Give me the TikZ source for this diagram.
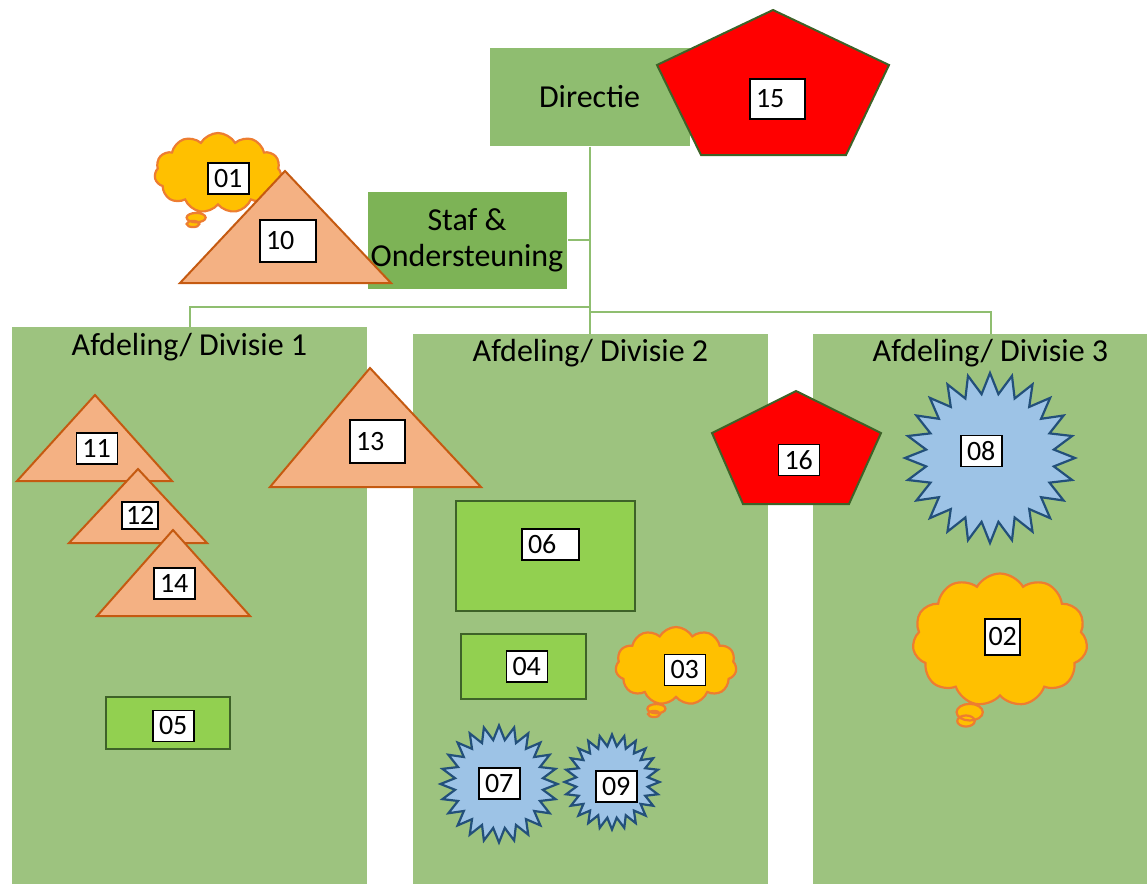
\documentclass[tikz,border=0pt]{standalone}
\usepackage{fontspec}
\setmainfont{Carlito}
\usetikzlibrary{shapes,shapes.callouts}
\definecolor{panelgreen}{RGB}{157,195,127}
\definecolor{dirgreen}{RGB}{143,189,112}
\definecolor{stafgreen}{RGB}{125,179,86}
\definecolor{linkgreen}{RGB}{143,190,112}
\definecolor{unitgreen}{RGB}{146,208,80}
\definecolor{darkgreen}{RGB}{62,98,40}
\definecolor{trifill}{RGB}{244,177,131}
\definecolor{tridraw}{RGB}{197,90,17}
\definecolor{starfill}{RGB}{157,195,230}
\definecolor{stardraw}{RGB}{35,80,122}
\definecolor{cloudfill}{RGB}{255,192,0}
\definecolor{clouddraw}{RGB}{237,125,49}

\begin{document}
\begin{tikzpicture}[
  x=0.5pt, y=-0.5pt,
  every node/.style={font=\fontsize{16}{18}\selectfont},
  panel/.style={fill=panelgreen, minimum width=177.5pt, minimum height=#1, inner sep=0pt},
  orgbox/.style={fill=#1, draw=white, line width=0.5pt, inner sep=0pt},
  divtitle/.style={inner sep=0pt},
  link/.style={draw=linkgreen, line width=1pt},
  unit/.style={fill=unitgreen, draw=darkgreen, line width=1.1pt, inner sep=0pt},
  tri/.style={fill=trifill, draw=tridraw, line width=1pt},
  penta/.style={fill=red, draw=darkgreen, line width=1pt},
  burst/.style={star, star points=24, star point ratio=1.32, fill=starfill,
    draw=stardraw, line width=1.1pt, inner sep=0pt, minimum size=#1},
  thought/.style={cloud callout, cloud puffs=11, cloud puff arc=120, cloud ignores aspect,
    fill=cloudfill, draw=clouddraw, line width=1.1pt, inner sep=0pt},
  numbox/.style={draw=black, fill=white, line width=0.7pt, font=\fontsize{14}{16}\selectfont,
    inner xsep=3pt, inner ysep=0pt, minimum height=15.5pt, text width=#1, align=left},
  numbox/.default=14.5pt,
]
\useasboundingbox (0,0) rectangle (1147,884);

% --- Divisions ---------------------------------------------------
\node[panel=278.5pt] (div1) at (189.5,605.5) {};
\node[panel=275pt] (div2) at (590.5,609) {};
\node[panel=275pt] (div3) at (990.5,609) {};
\node[divtitle] (t1) at ([yshift=-10.5pt]div1.north) {Afdeling/ Divisie 1};
\node[divtitle] (t2) at ([yshift=-10pt]div2.north) {Afdeling/ Divisie 2};
\node[divtitle] (t3) at ([yshift=-10pt]div3.north) {Afdeling/ Divisie 3};

% --- Top of the chart --------------------------------------------
\node[orgbox=dirgreen, minimum width=100.5pt, minimum height=49.5pt] (dir) at (589.5,96.5) {Directie};
\node[orgbox=stafgreen, minimum width=100pt, minimum height=49pt] (staf) at (467,240) {};

% --- Lines -------------------------------------------------------
\coordinate (jl) at (589.5,306.5);
\coordinate (jr) at (589.5,312);
\draw[link] (dir.south) -- (dir.south |- div2.north);
\draw[link] (dir.south |- staf.east) -- (staf.east);
\draw[link] (jl) -| (div1.north);
\draw[link] (jr) -| (div3.north);

% --- Shapes in the staff area ------------------------------------
\node[thought, minimum width=63.5pt, minimum height=40pt,
  callout absolute pointer={(193,224)}] (c01) at (218,173) {};
\node[numbox] (n01) at (228.5,178.5) {01};
\draw[tri] (285,171) -- (391,283) -- (180,283) -- cycle;
\node[numbox=22pt, minimum height=21pt] (n10) at (288,241) {10};
\node[inner sep=0pt, align=center] (stafText) at (staf) {Staf \&\\Ondersteuning};
\draw[penta] (773,10) -- (889,65) -- (846,155) -- (701,155) -- (657,65) -- cycle;
\node[numbox=21.5pt, minimum height=20pt] (n15) at (777.5,99) {15};

% --- Division 1 --------------------------------------------------
\draw[tri] (95,395) -- (172,481) -- (17,481) -- cycle;
\node[numbox] (n11) at (97,448.5) {11};
\draw[tri] (138,469) -- (207,543) -- (69,543) -- cycle;
\node[numbox=14pt, inner xsep=2pt, minimum height=13.5pt] (n12) at (140,515.5) {12};
\draw[tri] (173,530) -- (250,616) -- (97,616) -- cycle;
\node[numbox] (n14) at (174.5,583.5) {14};
\draw[tri] (370,368) -- (481,487) -- (270,487) -- cycle;
\node[numbox=21.5pt, minimum height=21.5pt] (n13) at (377.5,441.5) {13};
\node[unit, minimum width=62pt, minimum height=26pt] (u05) at (168,723) {};
\node[numbox] (n05) at (173.5,726) {05};

% --- Division 2 --------------------------------------------------
\node[unit, minimum width=89.5pt, minimum height=55pt] (u06) at (545.5,556) {};
\node[numbox=22.5pt] (n06) at (550.5,544.5) {06};
\node[unit, minimum width=62.5pt, minimum height=32.5pt] (u04) at (523.5,666.5) {};
\node[numbox] (n04) at (527,666.5) {04};
\node[thought, minimum width=60.5pt, minimum height=39pt,
  callout absolute pointer={(654,714)}] (c03) at (676,666) {};
\node[numbox] (n03) at (685,670) {03};
\node[burst=58.5pt] (s07) at (499,784) {};
\node[numbox] (n07) at (499.5,783.5) {07};
\node[burst=47.5pt] (s09) at (612,782) {};
\node[numbox] (n09) at (616.5,786.5) {09};
\draw[penta] (796,391) -- (881,433) -- (849,504) -- (743,504) -- (712,433) -- cycle;
\node[numbox] (n16) at (799,460) {16};

% --- Division 3 --------------------------------------------------
\node[burst=85pt] (s08) at (990,458) {};
\node[numbox] (n08) at (981.5,451) {08};
\node[thought, minimum width=87.5pt, minimum height=66.5pt,
  callout absolute pointer={(966,721)}] (c02) at (1000,640) {};
\node[numbox=14pt, inner xsep=1.75pt, minimum height=18pt] (n02) at (1002.5,637) {02};
\end{tikzpicture}
\end{document}
